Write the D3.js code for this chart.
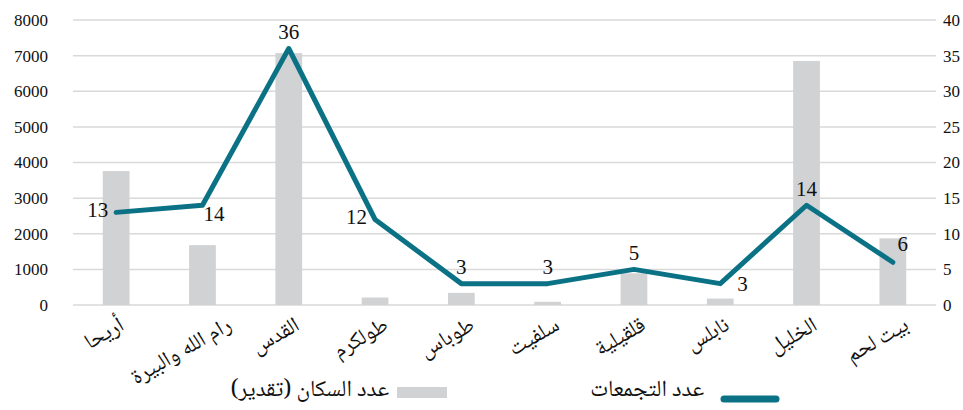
<!DOCTYPE html>
<html>
<head>
<meta charset="utf-8">
<script src="https://cdn.jsdelivr.net/npm/d3@7"></script>
<style>
  body { margin: 0; background: #fff; }
  svg { display: block; }
  text { font-family: "Liberation Serif", "Noto Naskh Arabic", "Amiri", "DejaVu Sans", serif; fill: #111; }
  .ar { font-family: "Noto Naskh Arabic", "Amiri", "Scheherazade New", "DejaVu Sans", sans-serif; }
</style>
</head>
<body>
<svg id="chart" width="963" height="410"></svg>
<script>
// districts, left to right as drawn
const districts = ['أريحا', 'رام الله والبيرة', 'القدس', 'طولكرم', 'طوباس', 'سلفيت', 'قلقيلية', 'نابلس', 'الخليل', 'بيت لحم'];
// estimated population (left axis)
const population = [3760, 1680, 7070, 210, 340, 90, 890, 180, 6850, 1870];
// number of communities (right axis)
const communities = [13, 14, 36, 12, 3, 3, 5, 3, 14, 6];
// where each value label sits relative to its point
const labelSide = ['left', 'belowRight', 'above', 'left', 'above', 'above', 'above', 'right', 'above', 'aboveRight'];
const popTicks = [0, 1000, 2000, 3000, 4000, 5000, 6000, 7000, 8000];
const countTicks = [0, 5, 10, 15, 20, 25, 30, 35, 40];
const legendBars = 'عدد السكان (تقدير)';
const legendLine = 'عدد التجمعات';

const lineColor = '#0b7285';
const barColor = '#d1d2d4';
const gridColor = '#d9d9d9';

const svg = d3.select('#chart');
const plotLeft = 73, plotRight = 936, plotTop = 20, plotBottom = 305;

const x = d3.scaleBand()
    .domain(districts)
    .range([plotLeft, plotRight])
    .paddingInner(0.69)
    .paddingOuter(0.345);
const yPop = d3.scaleLinear().domain([0, 8000]).range([plotBottom, plotTop]);
const yCount = d3.scaleLinear().domain([0, 40]).range([plotBottom, plotTop]);
const cx = d => x(d) + x.bandwidth() / 2;

// gridlines
svg.append('g')
    .selectAll('line')
    .data(popTicks)
    .join('line')
        .attr('x1', plotLeft)
        .attr('x2', plotRight)
        .attr('y1', d => yPop(d))
        .attr('y2', d => yPop(d))
        .style('stroke', gridColor)
        .style('stroke-width', 1.5);

// left axis
let leftAxis = svg.append('g')
    .attr('transform', `translate(${plotLeft - 25},0)`)
    .call(d3.axisLeft(yPop).tickValues(popTicks).tickSize(0).tickPadding(0).tickFormat(d3.format('d')))
    .attr('font-family', null)
    .attr('font-size', null);
leftAxis.select('.domain').remove();
leftAxis.selectAll('text')
    .attr('fill', null)
    .style('font-family', '"Liberation Serif", serif')
    .style('font-size', '17px');

// right axis
let rightAxis = svg.append('g')
    .attr('transform', `translate(${plotRight + 7},0)`)
    .call(d3.axisRight(yCount).tickValues(countTicks).tickSize(0).tickPadding(0))
    .attr('font-family', null)
    .attr('font-size', null);
rightAxis.select('.domain').remove();
rightAxis.selectAll('text')
    .attr('fill', null)
    .style('font-family', '"Liberation Serif", serif')
    .style('font-size', '17px');

// bars
svg.append('g')
    .selectAll('rect')
    .data(districts)
    .join('rect')
        .attr('x', d => x(d))
        .attr('width', x.bandwidth())
        .attr('y', (d, i) => yPop(population[i]))
        .attr('height', (d, i) => plotBottom - yPop(population[i]))
        .style('fill', barColor);

// line
const line = d3.line()
    .x(d => cx(d[0]))
    .y(d => yCount(d[1]));

svg.append('path')
    .datum(districts.map((d, i) => [d, communities[i]]))
    .attr('d', line)
    .style('fill', 'none')
    .style('stroke', lineColor)
    .style('stroke-width', 5)
    .style('stroke-linejoin', 'round')
    .style('stroke-linecap', 'round');

// value labels
const labelDx = {left: -8, right: 17, belowRight: 1, above: 0, aboveRight: 10};
const labelDy = {left: -3, right: 0, belowRight: 8, above: -17, aboveRight: -19};
const labelAnchor = {left: 'end', right: 'start', belowRight: 'start', above: 'middle', aboveRight: 'middle'};

svg.append('g')
    .selectAll('text')
    .data(districts)
    .join('text')
        .attr('x', (d, i) => cx(d) + labelDx[labelSide[i]])
        .attr('y', (d, i) => yCount(communities[i]) + labelDy[labelSide[i]])
        .attr('dy', '0.35em')
        .attr('text-anchor', (d, i) => labelAnchor[labelSide[i]])
        .style('font-size', '21px')
        .text((d, i) => communities[i]);

// category labels, rotated; longer names reach further right of their tick
svg.append('g')
    .selectAll('text')
    .data(districts)
    .join('text')
        .attr('class', 'ar')
        .attr('text-anchor', 'end')
        .attr('dy', '0.25em')
        .style('font-size', '22px')
        .text(d => d)
        .attr('transform', (d, i, nodes) => {
            let w = nodes[i].getComputedTextLength();
            return `translate(${cx(d) + 0.3 * w - 6},${plotBottom + 19}) rotate(-30)`;
        });

// legend
const legend = svg.append('g');
legend.append('rect')
    .attr('x', 397)
    .attr('y', 387)
    .attr('width', 50)
    .attr('height', 11)
    .style('fill', barColor);
legend.append('text')
    .attr('class', 'ar')
    .attr('x', 389)
    .attr('y', 396)
    .attr('text-anchor', 'end')
    .style('font-size', '23px')
    .text(legendBars);
legend.append('line')
    .attr('x1', 724)
    .attr('x2', 776)
    .attr('y1', 399)
    .attr('y2', 399)
    .style('stroke', lineColor)
    .style('stroke-width', 7)
    .style('stroke-linecap', 'round');
legend.append('text')
    .attr('class', 'ar')
    .attr('x', 704)
    .attr('y', 396)
    .attr('text-anchor', 'end')
    .style('font-size', '23px')
    .text(legendLine);
</script>
</body>
</html>
